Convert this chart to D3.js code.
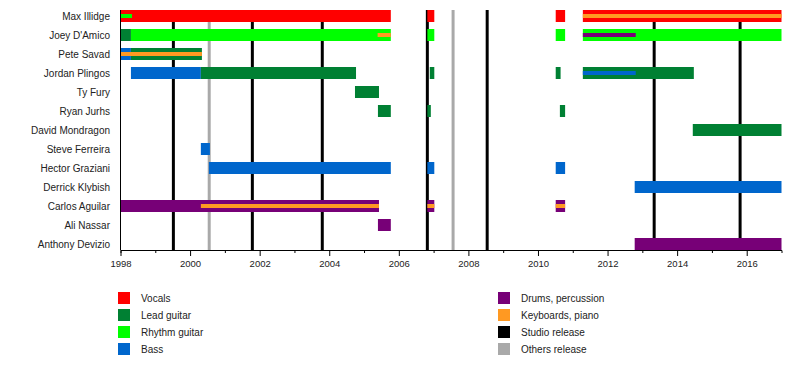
<!DOCTYPE html>
<html>
<head>
<meta charset="utf-8">
<script src="https://cdn.jsdelivr.net/npm/d3@7"></script>
<style>
  body { margin: 0; background: #fff; }
  text { font-family: "Liberation Sans", Arial, sans-serif; fill: #222; }
</style>
</head>
<body>
<div id="stage"></div>
<script>
const members = ['Max Illidge', "Joey D'Amico", 'Pete Savad', 'Jordan Plingos', 'Ty Fury',
    'Ryan Jurhs', 'David Mondragon', 'Steve Ferreira', 'Hector Graziani', 'Derrick Klybish',
    'Carlos Aguilar', 'Ali Nassar', 'Anthony Devizio'];

const roles = ['Vocals', 'Lead guitar', 'Rhythm guitar', 'Bass',
    'Drums, percussion', 'Keyboards, piano', 'Studio release', 'Others release'];
const roleColors = ['#ff0000', '#008033', '#00ff00', '#0066cc',
    '#770077', '#ff9922', '#000000', '#a9a9a9'];

// main bars: [member, role, from, to]
const periods = [
    ['Max Illidge', 'Vocals', 1998, 2005.77],
    ['Max Illidge', 'Vocals', 2006.82, 2007.02],
    ['Max Illidge', 'Vocals', 2010.51, 2010.78],
    ['Max Illidge', 'Vocals', 2011.29, 2017],
    ["Joey D'Amico", 'Lead guitar', 1998, 1998.3],
    ["Joey D'Amico", 'Rhythm guitar', 1998.3, 2005.77],
    ["Joey D'Amico", 'Rhythm guitar', 2006.82, 2007.02],
    ["Joey D'Amico", 'Rhythm guitar', 2010.51, 2010.78],
    ["Joey D'Amico", 'Rhythm guitar', 2011.29, 2017],
    ['Pete Savad', 'Bass', 1998, 1998.3],
    ['Pete Savad', 'Lead guitar', 1998.3, 2000.34],
    ['Jordan Plingos', 'Bass', 1998.3, 2000.31],
    ['Jordan Plingos', 'Lead guitar', 2000.31, 2004.77],
    ['Jordan Plingos', 'Lead guitar', 2006.89, 2007.02],
    ['Jordan Plingos', 'Lead guitar', 2010.51, 2010.65],
    ['Jordan Plingos', 'Lead guitar', 2011.29, 2014.48],
    ['Ty Fury', 'Lead guitar', 2004.74, 2005.43],
    ['Ryan Jurhs', 'Lead guitar', 2005.4, 2005.77],
    ['Ryan Jurhs', 'Lead guitar', 2006.82, 2006.92],
    ['Ryan Jurhs', 'Lead guitar', 2010.63, 2010.78],
    ['David Mondragon', 'Lead guitar', 2014.45, 2017],
    ['Steve Ferreira', 'Bass', 2000.31, 2000.57],
    ['Hector Graziani', 'Bass', 2000.54, 2005.77],
    ['Hector Graziani', 'Bass', 2006.82, 2007.02],
    ['Hector Graziani', 'Bass', 2010.51, 2010.78],
    ['Derrick Klybish', 'Bass', 2012.78, 2017],
    ['Carlos Aguilar', 'Drums, percussion', 1998, 2005.43],
    ['Carlos Aguilar', 'Drums, percussion', 2006.82, 2007.02],
    ['Carlos Aguilar', 'Drums, percussion', 2010.51, 2010.78],
    ['Ali Nassar', 'Drums, percussion', 2005.4, 2005.77],
    ['Anthony Devizio', 'Drums, percussion', 2012.78, 2017]
];

// thin secondary-role stripes inside the bars
const insets = [
    ['Max Illidge', 'Rhythm guitar', 1998, 1998.33],
    ['Max Illidge', 'Keyboards, piano', 2011.29, 2017],
    ["Joey D'Amico", 'Keyboards, piano', 2005.39, 2005.77],
    ["Joey D'Amico", 'Drums, percussion', 2011.29, 2012.81],
    ['Pete Savad', 'Keyboards, piano', 1998, 2000.34],
    ['Jordan Plingos', 'Bass', 2011.29, 2012.81],
    ['Carlos Aguilar', 'Keyboards, piano', 2000.31, 2005.43],
    ['Carlos Aguilar', 'Keyboards, piano', 2006.82, 2007.02],
    ['Carlos Aguilar', 'Keyboards, piano', 2010.51, 2010.78]
];

const studioReleases = [1999.52, 2001.79, 2003.8, 2006.82, 2008.54, 2013.34, 2015.81];
const otherReleases = [2000.55, 2007.56];

const majorTicks = d3.range(1998, 2017, 2);
const minorTicks = d3.range(1999, 2017, 2);

const width = 800;
const height = 370;
const color = d3.scaleOrdinal(roles, roleColors);

const svg = d3.select('#stage')
    .append('svg')
    .attr('width', width)
    .attr('height', height);

const x = d3.scaleLinear().domain([1998, 2017]).range([120.5, 781.5]);
const y = d3.scaleBand().domain(members).range([10, 250]).paddingInner(7 / 19).paddingOuter(0);
const plotTop = 10, plotBottom = 250;

// release lines behind the bars
svg.append('g')
    .selectAll('line')
    .data(otherReleases.map(d => ({ t: d, role: 'Others release' }))
        .concat(studioReleases.map(d => ({ t: d, role: 'Studio release' }))))
    .join('line')
    .attr('x1', d => x(d.t)).attr('x2', d => x(d.t))
    .attr('y1', plotTop).attr('y2', plotBottom)
    .attr('stroke', d => color(d.role))
    .attr('stroke-width', 3);

svg.append('g')
    .selectAll('rect')
    .data(periods)
    .join('rect')
    .attr('x', d => x(d[2]))
    .attr('width', d => x(d[3]) - x(d[2]))
    .attr('y', d => y(d[0]))
    .attr('height', y.bandwidth())
    .attr('fill', d => color(d[1]));

svg.append('g')
    .selectAll('rect')
    .data(insets)
    .join('rect')
    .attr('x', d => x(d[2]))
    .attr('width', d => x(d[3]) - x(d[2]))
    .attr('y', d => y(d[0]) + y.bandwidth() / 2 - 2)
    .attr('height', 4)
    .attr('fill', d => color(d[1]));

// member names
svg.append('g')
    .selectAll('text')
    .data(members)
    .join('text')
    .attr('x', 110)
    .attr('y', d => y(d) + y.bandwidth() / 2)
    .attr('dy', '0.35em')
    .attr('text-anchor', 'end')
    .attr('font-size', 10)
    .text(d => d);

// left axis line
svg.append('line')
    .attr('x1', 120.5).attr('x2', 120.5)
    .attr('y1', plotTop).attr('y2', plotBottom)
    .attr('stroke', '#000');

// time axis
const xAxis = svg.append('g')
    .attr('transform', `translate(0,${plotBottom})`)
    .call(d3.axisBottom(x).tickValues(majorTicks).tickFormat(d3.format('d'))
        .tickSize(6).tickSizeOuter(3).tickPadding(4));
xAxis.attr('font-family', null);
xAxis.selectAll('text').attr('font-size', 9.5).attr('fill', null);

svg.append('g')
    .attr('transform', `translate(0,${plotBottom})`)
    .selectAll('line')
    .data(minorTicks)
    .join('line')
    .attr('x1', d => x(d) + 0.5).attr('x2', d => x(d) + 0.5)
    .attr('y1', 0).attr('y2', 3)
    .attr('stroke', '#000');

// legend, two columns of four
const legend = svg.append('g')
    .selectAll('g')
    .data(roles)
    .join('g')
    .attr('transform', (d, i) => `translate(${i < 4 ? 118 : 498},${292 + (i % 4) * 17})`);

legend.append('rect')
    .attr('width', 12)
    .attr('height', 12)
    .attr('fill', d => color(d));

legend.append('text')
    .attr('x', 23)
    .attr('y', 6)
    .attr('dy', '0.35em')
    .attr('font-size', 10)
    .text(d => d);
</script>
</body>
</html>
